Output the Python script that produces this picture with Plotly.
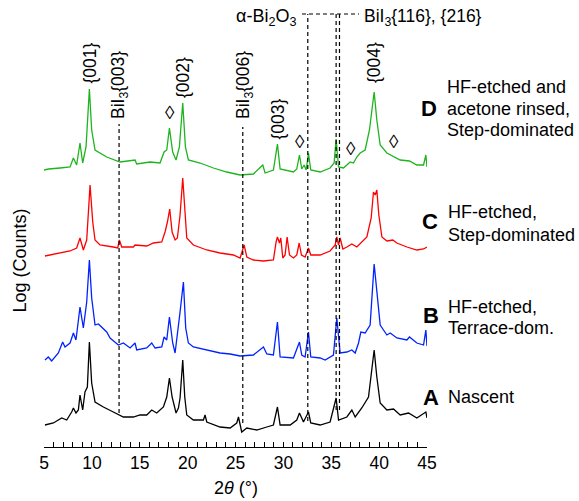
import plotly.graph_objects as go

# ---------------- data (2θ in degrees, offset log-intensity in arbitrary units) -------------
x_D = [5.00, 5.49, 6.67, 7.72, 8.07, 8.41, 8.76, 9.04, 9.39, 9.74, 9.98, 10.33, 11.55, 12.94, 14.51, 14.68,
       16.08, 17.12, 17.54, 17.82, 18.10, 18.44, 18.79, 19.14, 19.49, 19.77, 20.08, 21.30, 22.69, 24.09,
       25.48, 26.87, 27.85, 28.09, 28.96, 29.38, 29.66, 31.05, 31.40, 31.68, 31.92, 32.17, 32.38, 32.62,
       32.86, 33.84, 34.88, 35.30, 35.51, 35.76, 36.28, 36.97, 37.32, 37.67, 38.02, 38.54, 38.99, 39.27,
       39.48, 39.76, 40.11, 40.81, 41.43, 42.20, 43.17, 43.94, 44.64, 44.88, 45.00]
y_D = [277, 278, 279, 280, 289, 282, 304, 284, 300, 358, 317, 297, 290, 285, 287, 283,
       285, 284, 295, 297, 319, 295, 287, 300, 344, 300, 287, 284, 279, 275,
       272, 273, 282, 274, 277, 303, 278, 275, 278, 292, 278, 282, 277, 294,
       277, 275, 279, 284, 308, 280, 279, 285, 284, 290, 294, 297, 317, 340,
       355, 327, 302, 294, 291, 287, 286, 282, 282, 292, 280]

x_C = [5.10, 6.32, 7.72, 8.41, 8.76, 9.11, 9.46, 9.81, 10.09, 10.33, 10.85, 12.24, 12.70, 12.87, 13.12,
       14.33, 14.51, 15.73, 16.42, 17.30, 17.64, 17.89, 18.13, 18.38, 18.69, 18.93, 19.21, 19.49, 19.70,
       19.91, 20.60, 22.00, 23.39, 24.78, 25.48, 25.90, 26.18, 26.87, 27.92, 28.96, 29.24, 29.38, 29.59,
       29.73, 29.94, 30.18, 30.39, 30.64, 31.05, 31.40, 31.65, 31.89, 32.27, 32.62, 32.86, 33.84, 34.88,
       35.41, 35.58, 35.76, 35.93, 36.21, 36.63, 37.15, 37.67, 38.19, 38.72, 39.17, 39.41, 39.59, 39.76,
       39.97, 40.29, 40.81, 41.43, 41.85, 42.90, 43.94, 44.64, 44.99]
y_C = [191, 193, 196, 199, 209, 197, 207, 262, 225, 207, 202, 200, 199, 207, 200,
       200, 202, 201, 204, 205, 215, 225, 238, 215, 207, 209, 232, 269, 239,
       209, 202, 197, 194, 192, 189, 202, 190, 187, 186, 187, 205, 210, 204,
       209, 189, 192, 210, 192, 189, 192, 204, 192, 190, 199, 192, 192, 196,
       202, 210, 202, 209, 198, 200, 203, 200, 205, 210, 229, 255, 252, 257,
       232, 210, 206, 207, 204, 200, 197, 198, 200]

x_B = [5.10, 5.45, 5.80, 6.50, 6.95, 7.19, 7.72, 8.07, 8.34, 8.76, 9.11, 9.46, 9.74, 9.98, 10.33, 10.68,
       11.55, 11.90, 12.77, 13.29, 13.99, 14.51, 14.68, 15.73, 16.25, 16.60, 17.30, 17.54, 17.82, 18.10,
       18.44, 18.69, 19.21, 19.56, 19.80, 20.08, 20.60, 22.00, 23.39, 24.44, 25.48, 26.87, 27.92, 28.27,
       28.96, 29.38, 29.66, 31.05, 31.68, 31.92, 32.27, 32.62, 32.86, 33.84, 34.36, 35.23, 35.58, 35.93,
       36.63, 37.15, 37.50, 37.85, 38.09, 38.54, 39.06, 39.48, 39.76, 40.11, 40.81, 41.16, 41.85, 42.90,
       43.17, 43.94, 44.64, 44.88, 45.00]
y_B = [87, 90, 86, 94, 105, 100, 104, 114, 107, 140, 119, 145, 187, 149, 122, 123,
       115, 109, 102, 104, 99, 104, 97, 99, 104, 99, 100, 110, 107, 130,
       104, 94, 135, 165, 119, 104, 100, 97, 94, 93, 91, 92, 100, 93,
       92, 125, 90, 89, 105, 92, 90, 115, 90, 89, 87, 92, 129, 94,
       95, 97, 94, 104, 115, 114, 122, 183, 155, 122, 112, 114, 109, 107,
       110, 104, 102, 117, 101]

x_A = [5.10, 5.98, 6.85, 7.37, 7.89, 8.07, 8.34, 8.59, 8.76, 9.04, 9.28, 9.53, 9.74, 9.98, 10.33, 11.20,
       12.24, 13.29, 14.33, 15.03, 15.73, 16.25, 16.77, 17.47, 17.82, 18.10, 18.38, 18.79, 19.04, 19.21,
       19.49, 19.70, 19.91, 20.60, 21.65, 21.82, 22.00, 23.39, 24.44, 25.13, 25.31, 25.65, 26.18, 27.22,
       28.27, 28.96, 29.38, 29.66, 30.71, 31.40, 31.68, 32.10, 32.62, 32.86, 33.84, 34.88, 35.51, 35.76,
       36.63, 37.15, 37.50, 38.19, 38.89, 39.24, 39.48, 39.76, 40.11, 40.81, 41.50, 42.20, 43.07, 43.94,
       44.88, 45.00]
y_A = [22, 24, 29, 27, 35, 39, 34, 37, 52, 37, 55, 60, 105, 64, 45, 40,
       35, 30, 30, 32, 32, 37, 34, 40, 50, 69, 50, 34, 39, 49,
       87, 50, 32, 27, 27, 32, 25, 20, 19, 24, 30, 15, 19, 17,
       20, 22, 40, 22, 22, 27, 34, 25, 35, 24, 22, 25, 49, 27,
       30, 37, 30, 39, 50, 77, 97, 70, 44, 37, 38, 32, 34, 29,
       35, 29]

series_names = ["D", "C", "B", "A"]
series_colors = ["#1eb41e", "#ff0000", "#0022ff", "#000000"]

# reference reflections (2θ)
bii3_003_x = 12.84
bii3_006_x = 25.76
bi2o3_x = 32.55
bii3_116_216_x = [35.51, 35.86]

FONT = "Liberation Sans, Arial, Helvetica, sans-serif"

# ---------------- layout helpers (pixel -> paper) ----------------
L, R, T, B = 44, 152, 0, 54
W, H = 579, 501
PW, PH = W - L - R, H - T - B


def px(xp):
    return (xp - L) / PW


def py(yp):
    return 1 - (yp - T) / PH


def yv(yp):
    # pixel row -> y data value (y range equals plot height in px)
    return (T + PH) - yp


fig = go.Figure()
for xs, ys, name, col in zip([x_D, x_C, x_B, x_A], [y_D, y_C, y_B, y_A], series_names, series_colors):
    fig.add_trace(go.Scatter(x=xs, y=ys, mode="lines", name=name,
                             line=dict(color=col, width=1.3), showlegend=False, hoverinfo="skip"))

dash = "4px,3px"
shapes = []
# vertical reference lines
shapes.append(dict(type="line", xref="x", yref="y", x0=bii3_003_x, x1=bii3_003_x, y0=yv(413), y1=yv(124),
                   line=dict(color="black", width=1.2, dash=dash)))
shapes.append(dict(type="line", xref="x", yref="y", x0=bii3_006_x, x1=bii3_006_x, y0=yv(423), y1=yv(127),
                   line=dict(color="black", width=1.2, dash=dash)))
shapes.append(dict(type="line", xref="x", yref="y", x0=bi2o3_x, x1=bi2o3_x, y0=yv(421), y1=yv(14),
                   line=dict(color="black", width=1.2, dash=dash)))
for xv in bii3_116_216_x:
    shapes.append(dict(type="line", xref="x", yref="y", x0=xv, x1=xv, y0=yv(410), y1=yv(14),
                       line=dict(color="black", width=1.2, dash=dash)))
# top horizontal connector
shapes.append(dict(type="line", xref="paper", yref="y", x0=px(302), x1=px(359), y0=yv(14), y1=yv(14),
                   line=dict(color="black", width=1.2, dash=dash)))

ann = []


def add_text(text, xp, yp, size=18, angle=0, xanchor="center", yanchor="middle", bold=False):
    ann.append(dict(text=("<b>%s</b>" % text) if bold else text, x=px(xp), y=py(yp),
                    xref="paper", yref="paper", showarrow=False, textangle=angle,
                    xanchor=xanchor, yanchor=yanchor,
                    font=dict(family=FONT, size=size, color="black")))


# peak labels (rotated)
add_text("{001}", 89.5, 63, 17.5, -90)
add_text("BiI<sub>3</sub>{003}", 119, 85, 17.5, -90)
add_text("{002}", 183, 78, 17.5, -90)
add_text("BiI<sub>3</sub>{006}", 244, 85, 17.5, -90)
add_text("{003}", 277.5, 119, 17.5, -90)
add_text("{004}", 374, 63, 17.5, -90)
# diamonds
for (dx, dy) in [(169.5, 112.5), (300, 141), (351, 149), (394, 141)]:
    add_text("◊", dx, dy, 19)
# phase labels at top
add_text("α-Bi<sub>2</sub>O<sub>3</sub>", 298, 18, 18, xanchor="right")
add_text("BiI<sub>3</sub>{116}, {216}", 362, 18, 17.5, xanchor="left")

# sample labels
add_text("D", 429, 108, 22, bold=True)
add_text("HF-etched and", 445, 87, 18, xanchor="left")
add_text("acetone rinsed,", 445, 108.5, 18, xanchor="left")
add_text("Step-dominated", 445, 130, 18, xanchor="left")

add_text("C", 429.5, 221, 22, bold=True)
add_text("HF-etched,", 446, 212, 18, xanchor="left")
add_text("Step-dominated", 446, 235, 18, xanchor="left")

add_text("B", 430.5, 315, 22, bold=True)
add_text("HF-etched,", 446, 307, 18, xanchor="left")
add_text("Terrace-dom.", 446, 328, 18, xanchor="left")

add_text("A", 431, 397, 22, bold=True)
add_text("Nascent", 446, 397, 18, xanchor="left")

# axis titles
add_text("Log (Counts)", 19.5, 261, 18, -90)
add_text("2<i>θ</i> (°)", 236, 488, 18)

fig.update_layout(
    width=W, height=H,
    margin=dict(l=L, r=R, t=T, b=B, pad=0),
    paper_bgcolor="white", plot_bgcolor="white",
    shapes=shapes, annotations=ann,
    font=dict(family=FONT, size=17, color="black"),
    xaxis=dict(range=[5, 45], showgrid=False, zeroline=False, showline=True, linecolor="black",
               linewidth=1.3, ticks="inside", ticklen=5, tickwidth=1.3, tickcolor="black",
               dtick=5, tick0=5, tickfont=dict(family=FONT, size=17.5, color="black"),
               minor=dict(dtick=1, ticks="inside", ticklen=5, tickwidth=1.3, tickcolor="black",
                          showgrid=False)),
    yaxis=dict(range=[0, PH], visible=False, showgrid=False, zeroline=False),
)

fig.write_html("out.html")
